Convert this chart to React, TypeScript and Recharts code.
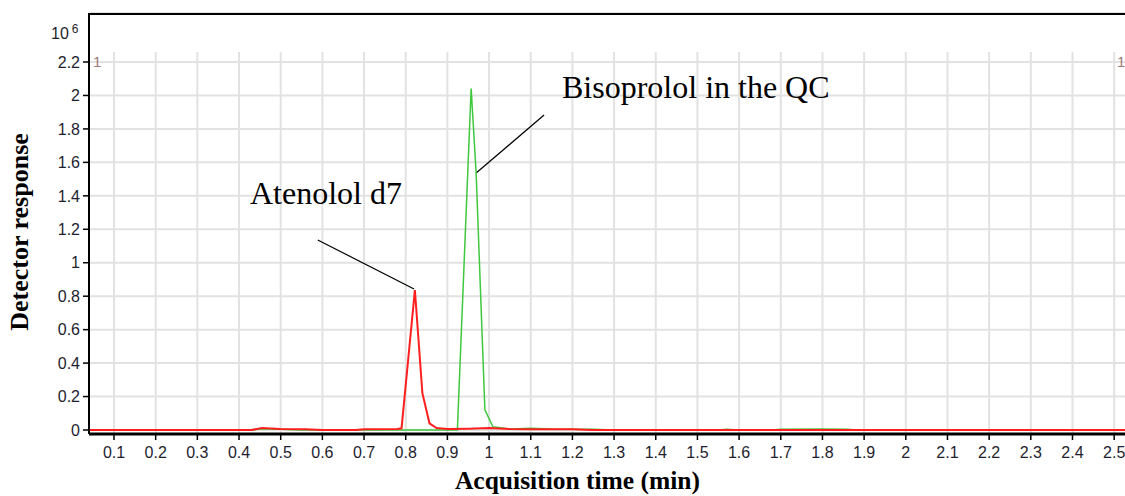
import { LineChart, Line, XAxis, YAxis, CartesianGrid, ReferenceLine } from "recharts";

// time axis ticks (min) and response ticks (x10^6 counts)
const timeTicks = [
  0.1, 0.2, 0.3, 0.4, 0.5, 0.6, 0.7, 0.8, 0.9, 1, 1.1, 1.2, 1.3, 1.4, 1.5, 1.6,
  1.7, 1.8, 1.9, 2, 2.1, 2.2, 2.3, 2.4, 2.5,
];
const responseTicks = [0, 0.2, 0.4, 0.6, 0.8, 1, 1.2, 1.4, 1.6, 1.8, 2, 2.2];

// Atenolol d7 trace (red)
const atenololTime = [
  0.04, 0.43, 0.455, 0.5, 0.56, 0.6, 0.68, 0.7, 0.78, 0.79, 0.822, 0.84, 0.857,
  0.874, 0.9, 0.95, 1.0, 1.05, 1.1, 1.2, 1.23, 1.25, 2.53,
];
const atenololResp = [
  0, 0, 0.012, 0.006, 0.004, 0, 0, 0.005, 0.006, 0.01, 0.837, 0.22, 0.04,
  0.012, 0.006, 0.008, 0.012, 0.006, 0.005, 0.005, 0.002, 0, 0,
];

// Bisoprolol QC trace (green)
const bisoprololTime = [
  0.04, 0.43, 0.455, 0.5, 0.55, 0.924, 0.957, 0.969, 0.99, 1.009, 1.05, 1.1,
  1.15, 1.25, 1.3, 1.55, 1.57, 1.6, 1.68, 1.7, 1.8, 1.86, 1.88, 2.53,
];
const bisoprololResp = [
  0, 0, 0.008, 0.004, 0, 0, 2.042, 1.535, 0.12, 0.02, 0.006, 0.01, 0.006,
  0.004, 0, 0, 0.004, 0, 0, 0.004, 0.006, 0.004, 0, 0,
];

const X_MIN = 0.04;
const X_MAX = 2.526;
const Y_MIN = -0.0239;
const Y_MAX = 2.493;
const GRID_TOP = 2.26;

const atenolol = atenololTime.map((t, i) => ({ t, v: atenololResp[i] }));
const bisoprolol = bisoprololTime.map((t, i) => ({ t, v: bisoprololResp[i] }));

const fmt = (v: number) => String(+v.toFixed(1));
const sans = "Liberation Sans, Arial, sans-serif";
const tickFont = { fontSize: 16, fill: "#1e1e2e", fontFamily: sans };
const serif = "Liberation Serif, Times New Roman, serif";

export default function App() {
  return (
    <div style={{ position: "absolute", left: 0, top: 0, width: 1125, height: 496, background: "#fff" }}>
      <LineChart
        width={1125}
        height={496}
        margin={{ top: 13, right: 0, bottom: 32, left: 0 }}
      >
        <CartesianGrid vertical={false} stroke="#e2e2e2" strokeWidth={2} />
        <XAxis
          type="number"
          dataKey="t"
          domain={[X_MIN, X_MAX]}
          ticks={timeTicks}
          tickFormatter={fmt}
          allowDataOverflow
          height={30}
          axisLine={{ stroke: "#000", strokeWidth: 3 }}
          tickLine={{ stroke: "#000", strokeWidth: 1.5 }}
          tickSize={6}
          tickMargin={7}
          tick={tickFont}
          interval={0}
        />
        <YAxis
          type="number"
          domain={[Y_MIN, Y_MAX]}
          ticks={responseTicks}
          tickFormatter={fmt}
          allowDataOverflow
          width={89}
          axisLine={{ stroke: "#000", strokeWidth: 2 }}
          tickLine={{ stroke: "#000", strokeWidth: 1.5 }}
          tickSize={6}
          tickMargin={3}
          tick={tickFont}
          interval={0}
        />
        {timeTicks.map((t) => (
          <ReferenceLine
            key={t}
            segment={[{ x: t, y: Y_MIN }, { x: t, y: GRID_TOP }]}
            stroke="#e2e2e2"
            strokeWidth={2}
          />
        ))}
        <ReferenceLine y={2.487} stroke="#000" strokeWidth={2} />
        {/* callout leaders */}
        <ReferenceLine
          segment={[{ x: 0.589, y: 1.136 }, { x: 0.82, y: 0.843 }]}
          stroke="#000"
          strokeWidth={1.2}
        />
        <ReferenceLine
          segment={[{ x: 1.132, y: 1.883 }, { x: 0.969, y: 1.536 }]}
          stroke="#000"
          strokeWidth={1.2}
        />
        <Line
          data={bisoprolol}
          dataKey="v"
          type="linear"
          stroke="#3ec83e"
          strokeWidth={1.5}
          dot={false}
          isAnimationActive={false}
        />
        <Line
          data={atenolol}
          dataKey="v"
          type="linear"
          stroke="#ff1e1e"
          strokeWidth={2}
          dot={false}
          isAnimationActive={false}
        />
      </LineChart>

      <div style={{ position: "absolute", left: 51, top: 22, fontFamily: sans, fontSize: 16, color: "#1e1e2e" }}>
        10<sup style={{ fontSize: 12, marginLeft: 3 }}>6</sup>
      </div>
      <div style={{ position: "absolute", left: 93, top: 53, fontFamily: sans, fontSize: 15, color: "#a07878" }}>1</div>
      <div style={{ position: "absolute", left: 1117, top: 53, fontFamily: sans, fontSize: 15, color: "#a07878" }}>1</div>

      <div style={{ position: "absolute", left: 250, top: 175, fontFamily: serif, fontSize: 32, color: "#000", whiteSpace: "nowrap" }}>
        Atenolol d7
      </div>
      <div style={{ position: "absolute", left: 562, top: 69, fontFamily: serif, fontSize: 32, color: "#000", whiteSpace: "nowrap" }}>
        Bisoprolol in the QC
      </div>

      <div
        style={{
          position: "absolute",
          left: 0,
          top: 468,
          width: 1155,
          lineHeight: "26px",
          textAlign: "center",
          fontFamily: serif,
          fontWeight: "bold",
          fontSize: 25.5,
          whiteSpace: "nowrap",
        }}
      >
        Acquisition time (min)
      </div>
      <div
        style={{
          position: "absolute",
          left: 20,
          top: 232,
          transform: "translate(-50%, -50%) rotate(-90deg)",
          fontFamily: serif,
          fontWeight: "bold",
          fontSize: 26,
          whiteSpace: "nowrap",
        }}
      >
        Detector response
      </div>
    </div>
  );
}
